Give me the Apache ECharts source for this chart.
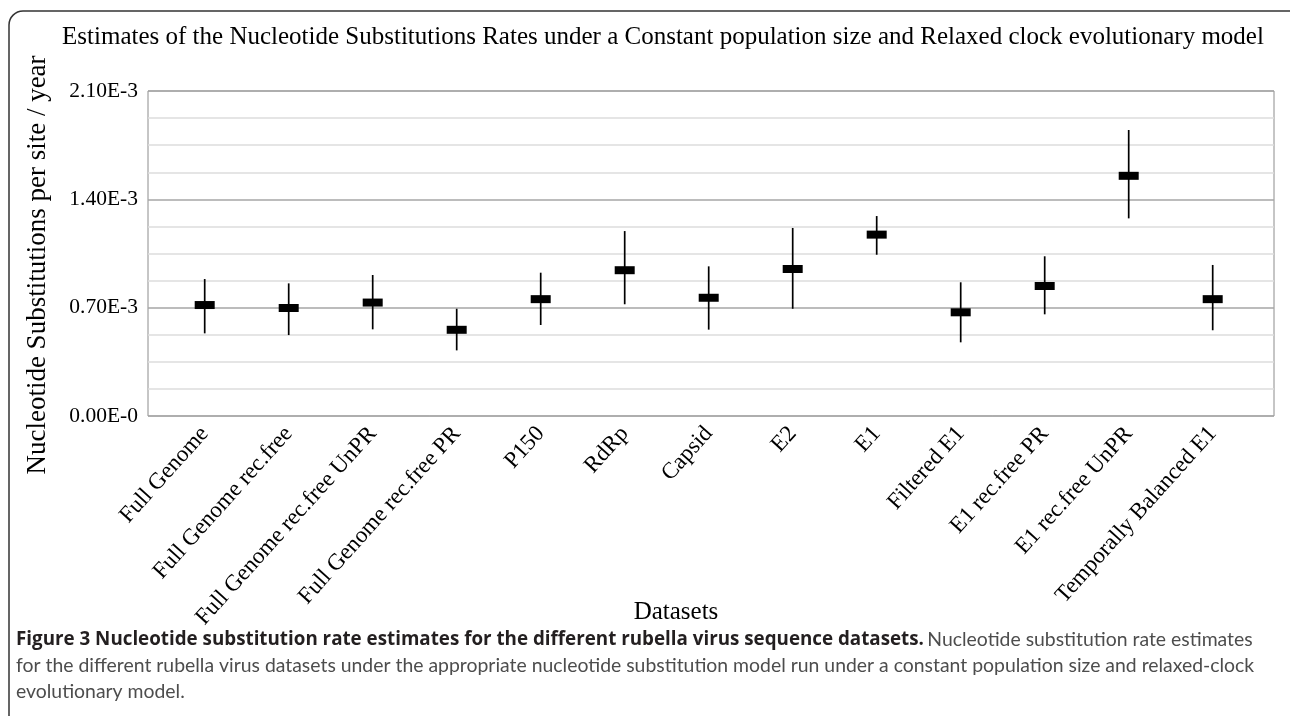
<!DOCTYPE html>
<html>
<head>
<meta charset="utf-8">
<script src="https://cdn.jsdelivr.net/npm/echarts@6/dist/echarts.min.js"></script>
<style>
  html, body { margin: 0; padding: 0; background: #fff; }
  #main { width: 1290px; height: 716px; }
</style>
</head>
<body>
<div id="main"></div>
<script>
var categories = ['Full Genome', 'Full Genome rec.free', 'Full Genome rec.free UnPR', 'Full Genome rec.free PR',
  'P150', 'RdRp', 'Capsid', 'E2', 'E1', 'Filtered E1', 'E1 rec.free PR', 'E1 rec.free UnPR', 'Temporally Balanced E1'];
// rates in units of 1E-3 substitutions / site / year
var meanRate = [0.717, 0.698, 0.733, 0.557, 0.755, 0.942, 0.764, 0.950, 1.172, 0.670, 0.840, 1.552, 0.755];
var upperHPD = [0.885, 0.857, 0.911, 0.693, 0.926, 1.195, 0.967, 1.215, 1.292, 0.864, 1.032, 1.848, 0.976];
var lowerHPD = [0.534, 0.523, 0.560, 0.424, 0.588, 0.722, 0.558, 0.693, 1.042, 0.476, 0.657, 1.277, 0.554];
var yTickLabels = ['0.00E-0', '0.70E-3', '1.40E-3', '2.10E-3'];

var serif = '"Liberation Serif", "Times New Roman", serif';
var sans = 'Lato, "Open Sans", sans-serif';

var myChart = echarts.init(document.getElementById('main'));

function renderItem (params, api) {
  var x = api.value(0);
  var lo = api.coord([x, api.value(1)]);
  var mid = api.coord([x, api.value(2)]);
  var hi = api.coord([x, api.value(3)]);
  return {
    type: 'group',
    children: [
      { type: 'line', shape: { x1: hi[0], y1: hi[1], x2: lo[0], y2: lo[1] }, style: { stroke: '#000', lineWidth: 1.7 } },
      { type: 'rect', shape: { x: mid[0] - 10, y: mid[1] - 4, width: 20, height: 8 }, style: { fill: '#000' } }
    ]
  };
}

myChart.setOption({
  animation: false,
  backgroundColor: '#fff',
  grid: [
    { left: 148, top: 91, width: 1126, height: 325, show: true, borderColor: '#8c8c8c', borderWidth: 1 },
    { left: 162.7, top: 91, width: 1092, height: 325 }
  ],
  xAxis: [
    { type: 'value', gridIndex: 0, min: 0, max: 1, show: false },
    {
      type: 'category', gridIndex: 1, data: categories, boundaryGap: true,
      axisLine: { show: false }, axisTick: { show: false },
      axisLabel: { rotate: 48, margin: 14, interval: 0, color: '#000', fontFamily: serif, fontSize: 23 }
    }
  ],
  yAxis: [
    {
      type: 'value', gridIndex: 0, min: 0, max: 2.1, interval: 0.175,
      axisLine: { show: false }, axisTick: { show: false },
      axisLabel: {
        margin: 10, color: '#000', fontFamily: serif, fontSize: 21.5,
        formatter: function (v) {
          var k = Math.round(v / 0.7);
          return Math.abs(v - k * 0.7) < 1e-6 ? yTickLabels[k] : '';
        }
      },
      splitLine: { lineStyle: { color: ['#a6a6a6', '#dcdcdc', '#dcdcdc', '#dcdcdc'], width: 1.5 } }
    },
    { type: 'value', gridIndex: 1, min: 0, max: 2.1, show: false }
  ],
  series: [
    {
      type: 'custom',
      xAxisIndex: 1,
      yAxisIndex: 1,
      renderItem: renderItem,
      data: categories.map(function (c, i) { return [i, lowerHPD[i], meanRate[i], upperHPD[i]]; })
    }
  ],
  graphic: [
    { type: 'rect', shape: { x: 9, y: 11, width: 1300, height: 760, r: 14 }, style: { fill: 'none', stroke: '#333', lineWidth: 1.5 } },
    {
      type: 'text', x: 663, y: 37,
      style: { text: 'Estimates of the Nucleotide Substitutions Rates under a Constant population size and Relaxed clock evolutionary model',
        fontFamily: serif, fontSize: 25, fill: '#000', align: 'center', verticalAlign: 'middle' }
    },
    {
      type: 'text', x: 38, y: 265, rotation: Math.PI / 2,
      style: { text: 'Nucleotide Substitutions per site / year', fontFamily: serif, fontSize: 27, fill: '#000', align: 'center', verticalAlign: 'middle' }
    },
    {
      type: 'text', x: 676, y: 612,
      style: { text: 'Datasets', fontFamily: serif, fontSize: 25, fill: '#000', align: 'center', verticalAlign: 'middle' }
    },
    {
      type: 'text', x: 16, y: 640,
      style: {
        text: '{b|Figure 3 Nucleotide substitution rate estimates for the different rubella virus sequence datasets.} {n|Nucleotide substitution rate estimates}',
        verticalAlign: 'middle',
        rich: {
          b: { fontFamily: '"Open Sans", Lato, sans-serif', fontSize: 18.8, fontWeight: 'bold', fill: '#231f20' },
          n: { fontFamily: sans, fontSize: 19.4, fill: '#4d4d4d' }
        }
      }
    },
    {
      type: 'text', x: 16, y: 666,
      style: { text: 'for the different rubella virus datasets under the appropriate nucleotide substitution model run under a constant population size and relaxed-clock',
        fontFamily: sans, fontSize: 19.4, fill: '#4d4d4d', verticalAlign: 'middle' }
    },
    {
      type: 'text', x: 16, y: 692,
      style: { text: 'evolutionary model.', fontFamily: sans, fontSize: 19.4, fill: '#4d4d4d', verticalAlign: 'middle' }
    }
  ]
});
</script>
</body>
</html>
